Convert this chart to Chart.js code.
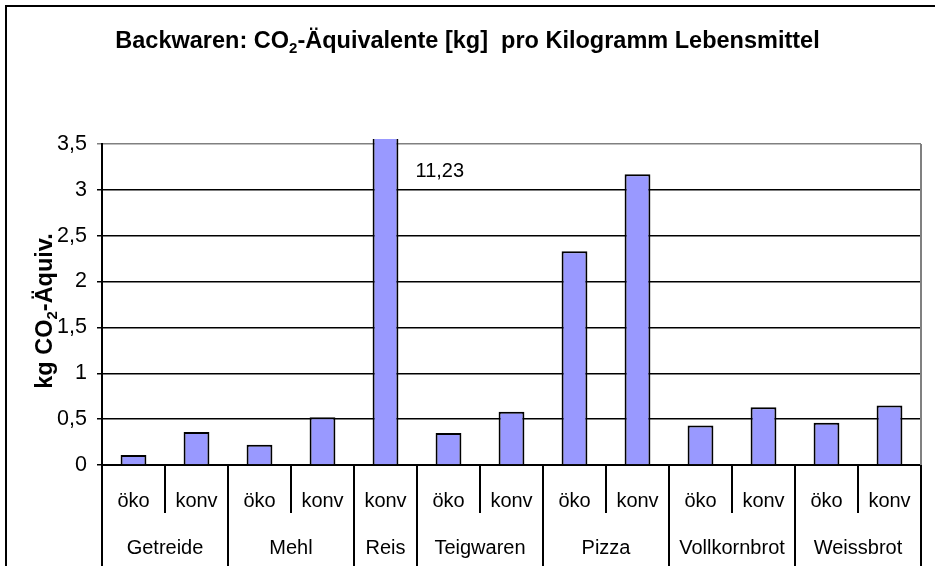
<!DOCTYPE html>
<html>
<head>
<meta charset="utf-8">
<script src="https://cdn.jsdelivr.net/npm/chart.js@4/dist/chart.umd.min.js"></script>
<style>
html, body { margin: 0; padding: 0; background: #fff; }
canvas { display: block; }
</style>
</head>
<body>
<canvas id="chart" width="935" height="566"></canvas>
<script>
// Chart data
const varieties = ['öko', 'konv', 'öko', 'konv', 'konv', 'öko', 'konv', 'öko', 'konv', 'öko', 'konv', 'öko', 'konv'];
const values = [0.11, 0.36, 0.22, 0.52, 11.23, 0.35, 0.58, 2.33, 3.17, 0.43, 0.63, 0.46, 0.65];
const groupNames = ['Getreide', 'Mehl', 'Reis', 'Teigwaren', 'Pizza', 'Vollkornbrot', 'Weissbrot'];
const groupSizes = [2, 2, 1, 2, 2, 2, 2];
const yMin = 0;
const yMax = 3.5;
const yStep = 0.5;

const FONT = "'Liberation Sans', Arial, sans-serif";
const BAR_COLOR = '#9999ff';

// Format a number the German way (comma as decimal separator)
function formatComma(v) {
    return String(v).replace('.', ',');
}

// Draw text made of normal and subscript parts, centred on x
function drawRichText(ctx, parts, size, x, y) {
    const subSize = Math.round(size * 0.62);
    let total = 0;
    parts.forEach(p => {
        ctx.font = `bold ${p.sub ? subSize : size}px ${FONT}`;
        total += ctx.measureText(p.text).width;
    });
    let cx = x - total / 2;
    ctx.textAlign = 'left';
    ctx.textBaseline = 'alphabetic';
    parts.forEach(p => {
        ctx.font = `bold ${p.sub ? subSize : size}px ${FONT}`;
        ctx.fillText(p.text, cx, p.sub ? y + size * 0.22 : y);
        cx += ctx.measureText(p.text).width;
    });
}

// Frame, titles, plot border and the two-level category axis
const decorPlugin = {
    id: 'decor',
    beforeDraw(chart) {
        const ctx = chart.ctx;
        ctx.save();
        ctx.fillStyle = '#fff';
        ctx.fillRect(0, 0, chart.width, chart.height);
        ctx.strokeStyle = '#000';
        ctx.lineWidth = 2;
        ctx.beginPath();
        ctx.moveTo(6, chart.height);
        ctx.lineTo(6, 6);
        ctx.lineTo(chart.width, 6);
        ctx.stroke();
        ctx.restore();
    },
    beforeDatasetsDraw(chart) {
        const ctx = chart.ctx;
        const area = chart.chartArea;
        ctx.save();
        ctx.strokeStyle = '#808080';
        ctx.lineWidth = 2;
        ctx.beginPath();
        ctx.moveTo(area.right, area.top);
        ctx.lineTo(area.right, area.bottom);
        ctx.stroke();
        ctx.restore();
    },
    afterDraw(chart) {
        const ctx = chart.ctx;
        const area = chart.chartArea;
        const xs = chart.scales.x;
        const ys = chart.scales.y;
        const step = xs.width / varieties.length;
        ctx.save();

        // separators of the category axis
        const groupEdges = [0];
        groupSizes.forEach(n => groupEdges.push(groupEdges[groupEdges.length - 1] + n));
        ctx.strokeStyle = '#000';
        ctx.lineWidth = 2;
        for (let i = 0; i <= varieties.length; i++) {
            const x = Math.round(xs.left + i * step);
            const long = groupEdges.includes(i);
            ctx.beginPath();
            ctx.moveTo(x, area.bottom);
            ctx.lineTo(x, long ? chart.height : area.bottom + 48);
            ctx.stroke();
        }

        // group labels
        ctx.fillStyle = '#000';
        ctx.font = `20px ${FONT}`;
        ctx.textAlign = 'center';
        ctx.textBaseline = 'middle';
        groupNames.forEach((name, g) => {
            const x = xs.left + (groupEdges[g] + groupEdges[g + 1]) / 2 * step;
            ctx.fillText(name, x, area.bottom + 83);
        });

        // value of the clipped Reis bar
        const reis = chart.getDatasetMeta(0).data[4];
        ctx.textAlign = 'left';
        ctx.fillText(formatComma(values[4]), reis.x + 30, ys.getPixelForValue(3.2));

        // chart title
        drawRichText(ctx, [
            { text: 'Backwaren: CO' },
            { text: '2', sub: true },
            { text: '-Äquivalente [kg]  pro Kilogramm Lebensmittel' }
        ], 23.5, chart.width / 2, 48);

        // y axis title
        ctx.translate(52, 311);
        ctx.rotate(-Math.PI / 2);
        drawRichText(ctx, [
            { text: 'kg CO' },
            { text: '2', sub: true },
            { text: '-Äquiv.' }
        ], 23.5, 0, 0);

        ctx.restore();
    }
};

const chart = new Chart(document.getElementById('chart').getContext('2d'), {
    type: 'bar',
    data: {
        labels: varieties,
        datasets: [{
            data: values,
            backgroundColor: BAR_COLOR,
            borderColor: '#000',
            borderWidth: 2,
            barPercentage: 0.41,
            categoryPercentage: 1,
            clip: { left: 0, right: 0, top: 5, bottom: 0 }
        }]
    },
    options: {
        responsive: false,
        animation: false,
        devicePixelRatio: 1,
        layout: {
            padding: { left: 0, right: 14, top: 144, bottom: 0 }
        },
        plugins: {
            legend: { display: false },
            tooltip: { enabled: false },
            title: { display: false }
        },
        scales: {
            x: {
                offset: true,
                grid: { display: false },
                border: { display: true, color: '#000', width: 2 },
                ticks: {
                    color: '#000',
                    font: { family: FONT, size: 20 },
                    padding: 16,
                    maxRotation: 0,
                    autoSkip: false
                },
                afterFit(scale) { scale.height = 101; }
            },
            y: {
                min: yMin,
                max: yMax,
                grid: {
                    color: ctx => (ctx.tick && ctx.tick.value === yMax ? '#808080' : '#000'),
                    lineWidth: 1.5,
                    tickLength: 5
                },
                border: { display: true, color: '#000', width: 2 },
                ticks: {
                    stepSize: yStep,
                    color: '#000',
                    font: { family: FONT, size: 21.5 },
                    padding: 10,
                    callback: v => formatComma(v)
                },
                afterFit(scale) { scale.width = 102; }
            }
        }
    },
    plugins: [decorPlugin]
});
</script>
</body>
</html>
